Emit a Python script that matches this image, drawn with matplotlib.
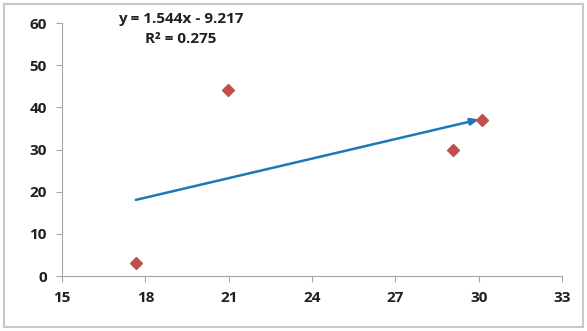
import matplotlib.pyplot as plt
import matplotlib.patches as patches

plt.rcParams['font.family'] = ['Open Sans', 'DejaVu Sans']

# data
xs = [17.66, 20.98, 29.07, 30.12]
ys = [3.1, 44.1, 29.9, 37.0]
slope = 1.544
intercept = -9.217
r2 = 0.275
xticks = [15, 18, 21, 24, 27, 30, 33]
yticks = [0, 10, 20, 30, 40, 50, 60]

fig = plt.figure(figsize=[5.87, 3.31], dpi=100)
ax = fig.add_axes([62/587, 1-276/331, 500/587, 253/331])

# chart border
fig.patches.append(patches.Rectangle((4/587, 4/331), 579/587, 323/331,
                                     transform=fig.transFigure, fill=False,
                                     edgecolor='#c8c8c8', lw=1.5))

ax.plot(xs, ys, 'D', color='#c0504d', markersize=6, zorder=3)

# linear trendline with arrow head
x0, x1 = min(xs), max(xs)
ax.annotate('', xy=(x1 - 0.1, slope*(x1 - 0.1) + intercept),
            xytext=(x0, slope*x0 + intercept),
            arrowprops=dict(arrowstyle='-|>,head_length=0.5,head_width=0.2',
                            color='#1a7ab5', lw=1.8, shrinkA=0, shrinkB=0),
            zorder=2)

ax.set_xlim(15, 33)
ax.set_ylim(0, 60)
ax.set_xticks(xticks)
ax.set_yticks(yticks)
for s in ['top', 'right']:
    ax.spines[s].set_visible(False)
for s in ['left', 'bottom']:
    ax.spines[s].set_color('#a6a6a6')
ax.tick_params(colors='#a6a6a6', length=4, direction='out', pad=7)
for lab in ax.get_xticklabels() + ax.get_yticklabels():
    lab.set_color('#202020')
    lab.set_fontweight('bold')
    lab.set_fontsize(11)

fig.text(181/587, 1-19/331, 'y = %.3fx - %.3f' % (slope, -intercept),
         ha='center', va='center', fontsize=11, fontweight='bold', color='#202020')
fig.text(181/587, 1-39/331, 'R² = %.3f' % r2,
         ha='center', va='center', fontsize=11, fontweight='bold', color='#202020')

fig.savefig('out.png', dpi=100)
